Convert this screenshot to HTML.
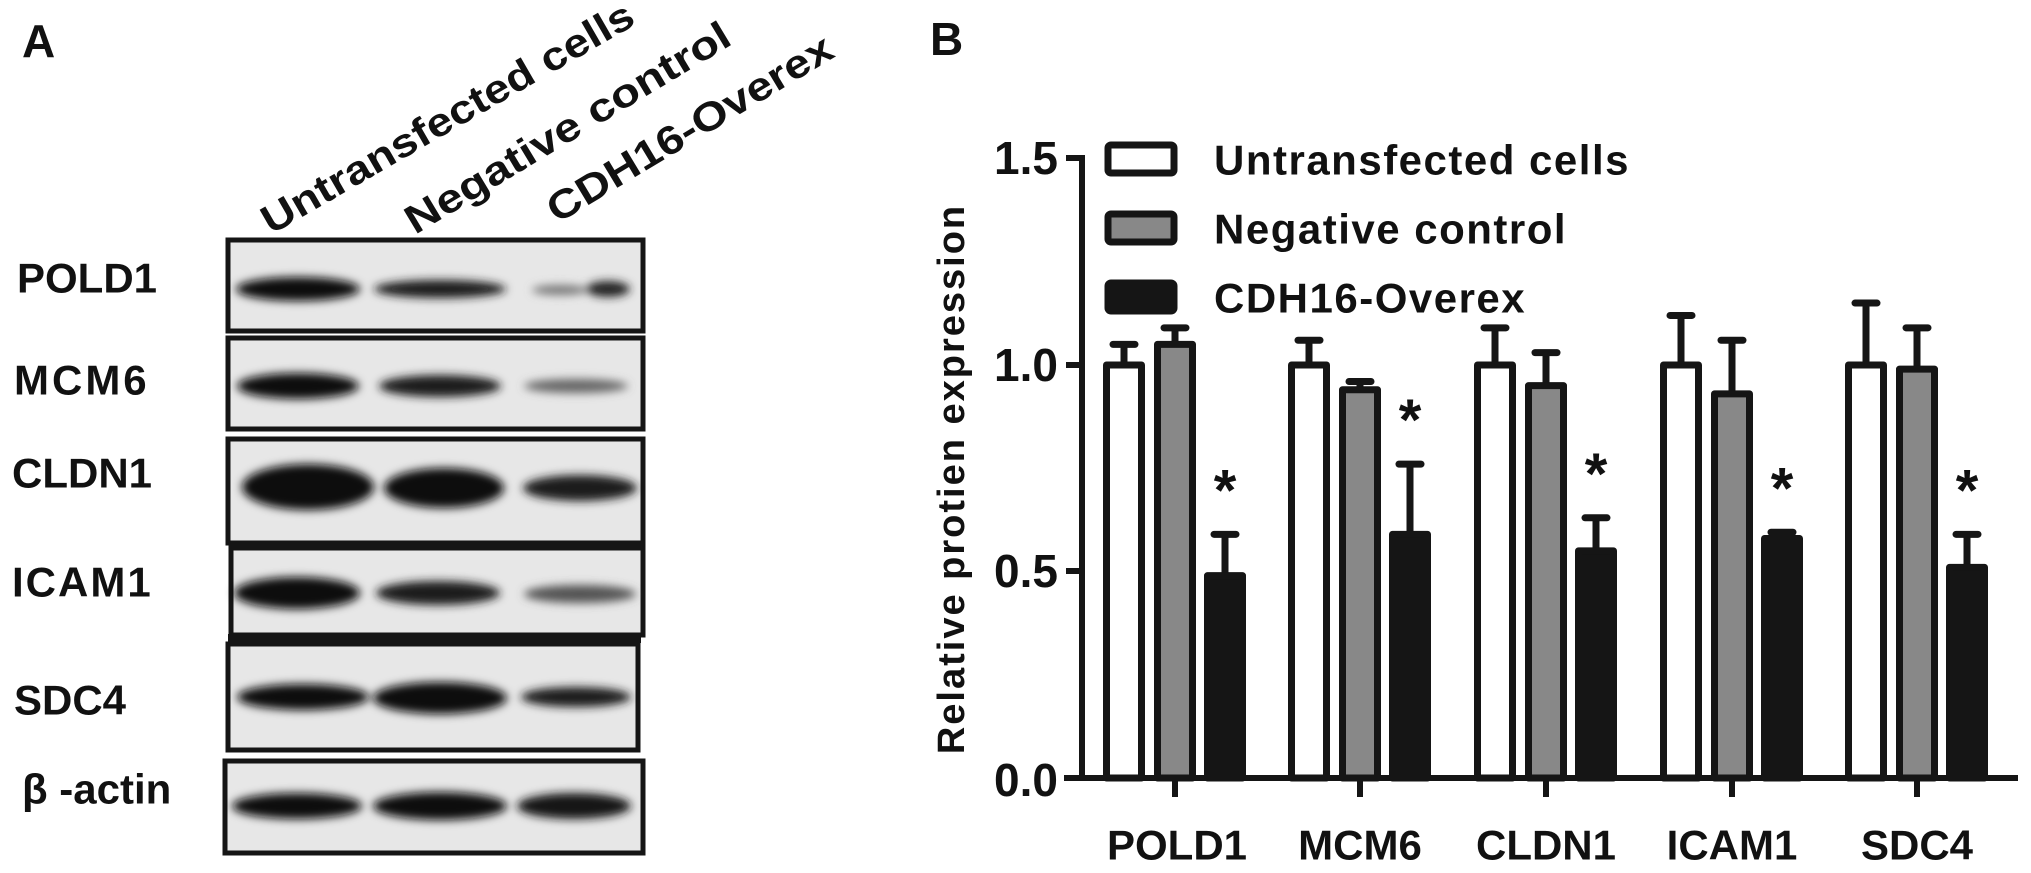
<!DOCTYPE html>
<html><head><meta charset="utf-8"><style>
html,body{margin:0;padding:0;background:#fff;}
svg{display:block;}
text{font-family:"Liberation Sans",Arial,sans-serif;font-weight:bold;fill:#111;}
</style></head><body>
<svg width="2031" height="873" viewBox="0 0 2031 873" xmlns="http://www.w3.org/2000/svg">
<defs>
<filter id="bl" x="-30%" y="-80%" width="160%" height="260%"><feGaussianBlur stdDeviation="4.5"/></filter>
</defs>
<rect width="2031" height="873" fill="#fff"/>

<!-- Panel A -->
<text x="22" y="57" font-size="46">A</text>
<g font-size="40">
<text transform="translate(271,235) rotate(-30)" textLength="423" lengthAdjust="spacingAndGlyphs">Untransfected cells</text>
<text transform="translate(415,235) rotate(-31)" textLength="372" lengthAdjust="spacingAndGlyphs">Negative control</text>
<text transform="translate(557,224) rotate(-31)" textLength="326" lengthAdjust="spacingAndGlyphs">CDH16-Overex</text>
</g>

<g fill="#e7e7e7" stroke="#151515" stroke-width="5">
<rect x="228" y="240" width="415" height="91"/>
<rect x="228" y="338" width="415" height="91"/>
<rect x="228" y="439" width="415" height="104"/>
<rect x="231" y="548" width="412" height="87"/>
<rect x="228" y="644" width="410" height="106"/>
<rect x="225" y="761" width="418" height="92"/>
</g>
<rect x="228" y="634" width="413" height="9" fill="#151515"/>

<g filter="url(#bl)">
<!-- POLD1 -->
<ellipse cx="298" cy="289" rx="62" ry="12" fill="#111"/>
<ellipse cx="440" cy="289" rx="66" ry="9" fill="#1a1a1a"/>
<ellipse cx="560" cy="290" rx="28" ry="5" fill="#777"/>
<ellipse cx="608" cy="289" rx="22" ry="8" fill="#222"/>
<!-- MCM6 -->
<ellipse cx="298" cy="386" rx="61" ry="13" fill="#111"/>
<ellipse cx="440" cy="386" rx="61" ry="11" fill="#1e1e1e"/>
<ellipse cx="576" cy="386" rx="52" ry="7" fill="#666"/>
<!-- CLDN1 -->
<ellipse cx="308" cy="487" rx="66" ry="23" fill="#0e0e0e"/>
<ellipse cx="444" cy="488" rx="60" ry="20" fill="#111"/>
<ellipse cx="580" cy="488" rx="57" ry="13" fill="#1a1a1a"/>
<!-- ICAM1 -->
<ellipse cx="297" cy="593" rx="63" ry="16" fill="#111"/>
<ellipse cx="438" cy="593" rx="62" ry="12" fill="#1c1c1c"/>
<ellipse cx="580" cy="594" rx="56" ry="9" fill="#555"/>
<!-- SDC4 -->
<ellipse cx="303" cy="697" rx="66" ry="13" fill="#111"/>
<ellipse cx="440" cy="698" rx="67" ry="16" fill="#0f0f0f"/>
<ellipse cx="576" cy="697" rx="55" ry="10" fill="#1e1e1e"/>
<!-- actin -->
<ellipse cx="297" cy="806" rx="65" ry="13" fill="#111"/>
<ellipse cx="440" cy="806" rx="67" ry="14" fill="#111"/>
<ellipse cx="574" cy="806" rx="57" ry="13" fill="#141414"/>
</g>

<g font-size="42" dominant-baseline="central">
<text x="17" y="278">POLD1</text>
<text x="14" y="380" letter-spacing="3">MCM6</text>
<text x="12" y="473">CLDN1</text>
<text x="12" y="582" letter-spacing="2">ICAM1</text>
<text x="14" y="700">SDC4</text>
<text x="22" y="789">β -actin</text>
</g>

<!-- Panel B -->
<text x="930" y="55" font-size="46">B</text>
<text transform="translate(952,479) rotate(-90)" text-anchor="middle" font-size="38" letter-spacing="2" dominant-baseline="central">Relative protien expression</text>

<g stroke="#151515" stroke-width="6" fill="none">
<line x1="1082" y1="155" x2="1082" y2="781"/>
<line x1="1064" y1="778" x2="2018" y2="778"/>
<line x1="1066" y1="158" x2="1082" y2="158"/>
<line x1="1066" y1="365" x2="1082" y2="365"/>
<line x1="1066" y1="571" x2="1082" y2="571"/>
<line x1="1175" y1="778" x2="1175" y2="797"/>
<line x1="1360" y1="778" x2="1360" y2="797"/>
<line x1="1546" y1="778" x2="1546" y2="797"/>
<line x1="1732" y1="778" x2="1732" y2="797"/>
<line x1="1917" y1="778" x2="1917" y2="797"/>
</g>
<g font-size="46" text-anchor="end" dominant-baseline="central">
<text x="1058" y="158">1.5</text>
<text x="1058" y="365">1.0</text>
<text x="1058" y="571">0.5</text>
<text x="1058" y="780">0.0</text>
</g>
<g font-size="42" text-anchor="middle" dominant-baseline="central">
<text x="1177" y="845">POLD1</text>
<text x="1360" y="845">MCM6</text>
<text x="1546" y="845">CLDN1</text>
<text x="1732" y="845">ICAM1</text>
<text x="1917" y="845">SDC4</text>
</g>

<!-- legend -->
<g stroke="#151515" stroke-width="7">
<rect x="1108" y="145" width="66" height="28" rx="3" fill="#fff"/>
<rect x="1108" y="214" width="66" height="28" rx="3" fill="#888"/>
<rect x="1108" y="283" width="66" height="28" rx="3" fill="#151515"/>
</g>
<g font-size="42" dominant-baseline="central" letter-spacing="1.5">
<text x="1214" y="160">Untransfected cells</text>
<text x="1214" y="229">Negative control</text>
<text x="1214" y="298">CDH16-Overex</text>
</g>

<!-- bars -->
<g id="bars" stroke="#151515" stroke-width="7" stroke-linejoin="round"></g>
<g font-size="58" text-anchor="middle" id="stars"></g>

<script>
(function(){
var y=function(v){return 778-413*v;};
var centers=[1175,1360,1546,1732,1917];
var data=[[[1.0,0.05],[1.05,0.04],[0.49,0.10]],
[[1.0,0.06],[0.94,0.02],[0.59,0.17]],
[[1.0,0.09],[0.95,0.08],[0.55,0.08]],
[[1.0,0.12],[0.93,0.13],[0.58,0.015]],
[[1.0,0.15],[0.99,0.10],[0.51,0.08]]];
var fills=['#fff','#888','#151515'];var offs=[-51,0,50];
var ns='http://www.w3.org/2000/svg';var g=document.getElementById('bars');var sg=document.getElementById('stars');
function el(n,a,p){var e=document.createElementNS(ns,n);for(var k in a)e.setAttribute(k,a[k]);p.appendChild(e);return e;}
for(var i=0;i<5;i++){for(var j=0;j<3;j++){var v=data[i][j][0],e=data[i][j][1],cx=centers[i]+offs[j];
var top=y(v),et=y(v+e);
el('line',{x1:cx,y1:top,x2:cx,y2:et},g);
el('line',{x1:cx-11,y1:et,x2:cx+11,y2:et,'stroke-linecap':'round'},g);
el('rect',{x:cx-17.5,y:top,width:35,height:778-top,fill:fills[j]},g);}
var st=y(data[i][2][0]+data[i][2][1])-56;
var t=el('text',{x:centers[i]+50,y:st+32},sg);t.textContent='*';}
})();
</script>
</svg>
</body></html>
